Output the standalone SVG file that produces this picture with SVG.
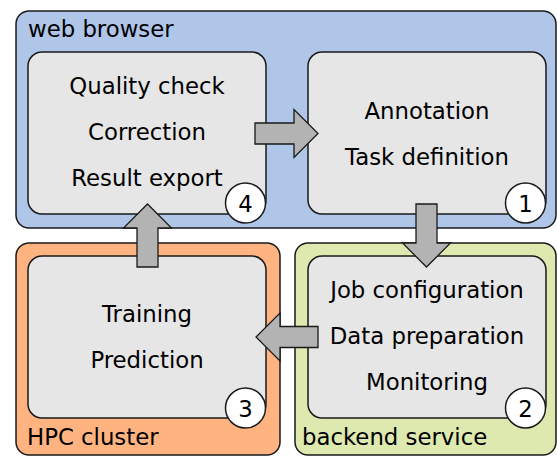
<svg xmlns="http://www.w3.org/2000/svg" width="557" height="456" viewBox="0 0 557 456">
<style>
.outer{stroke:#1a1a1a;stroke-width:1.5}
.inner{fill:#e6e6e6;stroke:#1a1a1a;stroke-width:1.5}
.arrow{fill:#b3b3b3;stroke:#1a1a1a;stroke-width:1.3;stroke-linejoin:miter}
.num{fill:#ffffff;stroke:#1a1a1a;stroke-width:1.5}
text{font-family:"DejaVu Sans",Verdana,sans-serif;font-size:22.8px;fill:#000}
.c{text-anchor:middle}
</style>
<rect width="557" height="456" fill="#ffffff"/>
<g id="web-browser">
<rect class="outer" x="16" y="11" width="540" height="217" rx="13" fill="#afc6e9"/>
<text x="28" y="37">web browser</text>
</g>
<g id="hpc-cluster">
<rect class="outer" x="16" y="243" width="264" height="212" rx="13" fill="#ffb380"/>
<text x="27" y="445">HPC cluster</text>
</g>
<g id="backend-service">
<rect class="outer" x="295" y="243" width="261" height="212" rx="13" fill="#dde9af"/>
<text x="302" y="445">backend service</text>
</g>
<g id="step4">
<rect class="inner" x="28" y="52" width="238" height="162" rx="14"/>
<text class="c" x="147" y="94">Quality check</text>
<text class="c" x="147" y="140">Correction</text>
<text class="c" x="147" y="186">Result export</text>
<circle class="num" cx="245.5" cy="203" r="20"/>
<text class="c" x="245.5" y="212" font-size="22">4</text>
</g>
<g id="step1">
<rect class="inner" x="308" y="52" width="238" height="162" rx="14"/>
<text class="c" x="427" y="119">Annotation</text>
<text class="c" x="427" y="165">Task definition</text>
<circle class="num" cx="525.5" cy="203" r="20"/>
<text class="c" x="525.5" y="212" font-size="22">1</text>
</g>
<g id="step2">
<rect class="inner" x="308" y="256" width="238" height="162" rx="14"/>
<text class="c" x="427" y="298">Job configuration</text>
<text class="c" x="427" y="344">Data preparation</text>
<text class="c" x="427" y="390">Monitoring</text>
<circle class="num" cx="525.5" cy="408" r="20"/>
<text class="c" x="525.5" y="417" font-size="22">2</text>
</g>
<g id="step3">
<rect class="inner" x="28" y="256" width="238" height="162" rx="14"/>
<text class="c" x="147" y="322">Training</text>
<text class="c" x="147" y="368">Prediction</text>
<circle class="num" cx="245.5" cy="408" r="20"/>
<text class="c" x="245.5" y="417" font-size="22">3</text>
</g>
<g id="connectors">
<path class="arrow" d="M255,123 H294 V109.5 L318,133.5 L294,157.5 V144 H255 Z"/>
<path class="arrow" d="M416,204 V243 H402.5 L426.5,267 L450.5,243 H437 V204 Z"/>
<path class="arrow" d="M318,326.5 H280 V313 L256,337 L280,361 V347.5 H318 Z"/>
<path class="arrow" d="M137,267 V228 H123.5 L147.5,204 L171.5,228 H158 V267 Z"/>
</g>
</svg>
